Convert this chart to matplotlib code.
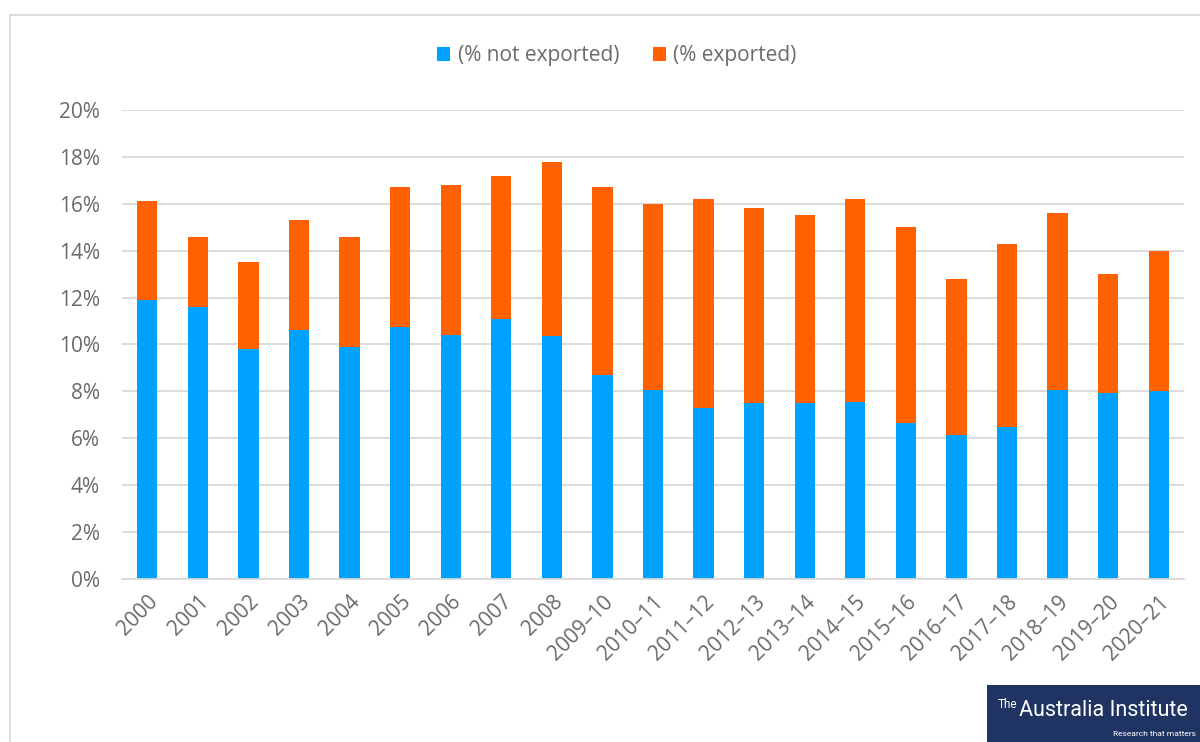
import matplotlib.pyplot as plt
import numpy as np
from matplotlib.patches import Rectangle
from matplotlib.ticker import PercentFormatter

plt.rcParams['font.family'] = ['Open Sans', 'DejaVu Sans']

years = ['2000', '2001', '2002', '2003', '2004', '2005', '2006', '2007', '2008',
         '2009–10', '2010–11', '2011–12', '2012–13', '2013–14', '2014–15',
         '2015–16', '2016–17', '2017–18', '2018–19', '2019–20', '2020–21']

# shares in %
not_exported = [11.9, 11.6, 9.8, 10.6, 9.9, 10.75, 10.4, 11.1, 10.35, 8.7, 8.05,
                7.3, 7.5, 7.5, 7.55, 6.65, 6.15, 6.5, 8.05, 7.95, 8.0]
exported = [4.2, 3.0, 3.7, 4.7, 4.7, 5.95, 6.4, 6.1, 7.45, 8.0, 7.95,
            8.9, 8.3, 8.0, 8.65, 8.35, 6.65, 7.8, 7.55, 5.05, 6.0]

blue = '#00A2FF'
orange = '#FF6000'
grey = '#6A6A6A'

fig = plt.figure(figsize=(12, 7.42), dpi=100)
ax = fig.add_axes([0.1017, 0.2197, 0.885, 0.6321])

x = np.arange(len(years))
ax.bar(x, not_exported, width=0.4, color=blue, label='(% not exported)', zorder=2)
ax.bar(x, exported, width=0.4, bottom=not_exported, color=orange,
       label='(% exported)', zorder=2)

ax.set_xlim(-0.5, len(years) - 0.5)
ax.set_ylim(0, 20)
ax.set_yticks(np.arange(0, 21, 2))
ax.yaxis.set_major_formatter(PercentFormatter(decimals=0))
ax.grid(axis='y', color='#D9D9D9', linewidth=1.3, zorder=0)
for s in ['top', 'right', 'left']:
    ax.spines[s].set_visible(False)
ax.spines['bottom'].set_color('#D9D9D9')
ax.spines['bottom'].set_linewidth(1.3)
ax.tick_params(axis='both', length=0, colors=grey, labelsize=15)
ax.tick_params(axis='y', pad=16)
ax.set_xticks(x)
ax.set_xticklabels(years, rotation=45, ha='right', rotation_mode='anchor')
ax.tick_params(axis='x', pad=9)

leg = fig.legend(loc='center', bbox_to_anchor=(0.514, 0.925), ncol=2, frameon=False,
                 fontsize=15, handlelength=0.65, handleheight=0.65,
                 handletextpad=0.35, columnspacing=1.6)
for t in leg.get_texts():
    t.set_color(grey)

# outer chart frame
fig.patches.append(Rectangle((10 / 1200, -0.1), 1.2, 1 - 15 / 742 + 0.1,
                             transform=fig.transFigure, fill=False,
                             edgecolor='#D9D9D9', linewidth=1.3))

# logo
fig.patches.append(Rectangle((987 / 1200, 0), 0.2, 57 / 742,
                             transform=fig.transFigure, facecolor='#1F3463',
                             edgecolor='none'))
fig.text(1017 / 1200, 1 - 705 / 742, 'The', color='white', fontsize=8.5,
         va='center', ha='right', family='Roboto')
fig.text(1019 / 1200, 1 - 711 / 742, 'Australia Institute', color='white',
         fontsize=15.5, va='center', ha='left', family='Roboto')
fig.text(1196 / 1200, 1 - 734 / 742, 'Research that matters', color='white',
         fontsize=6, va='center', ha='right', family='Roboto')

fig.savefig('out.png', dpi=100)
